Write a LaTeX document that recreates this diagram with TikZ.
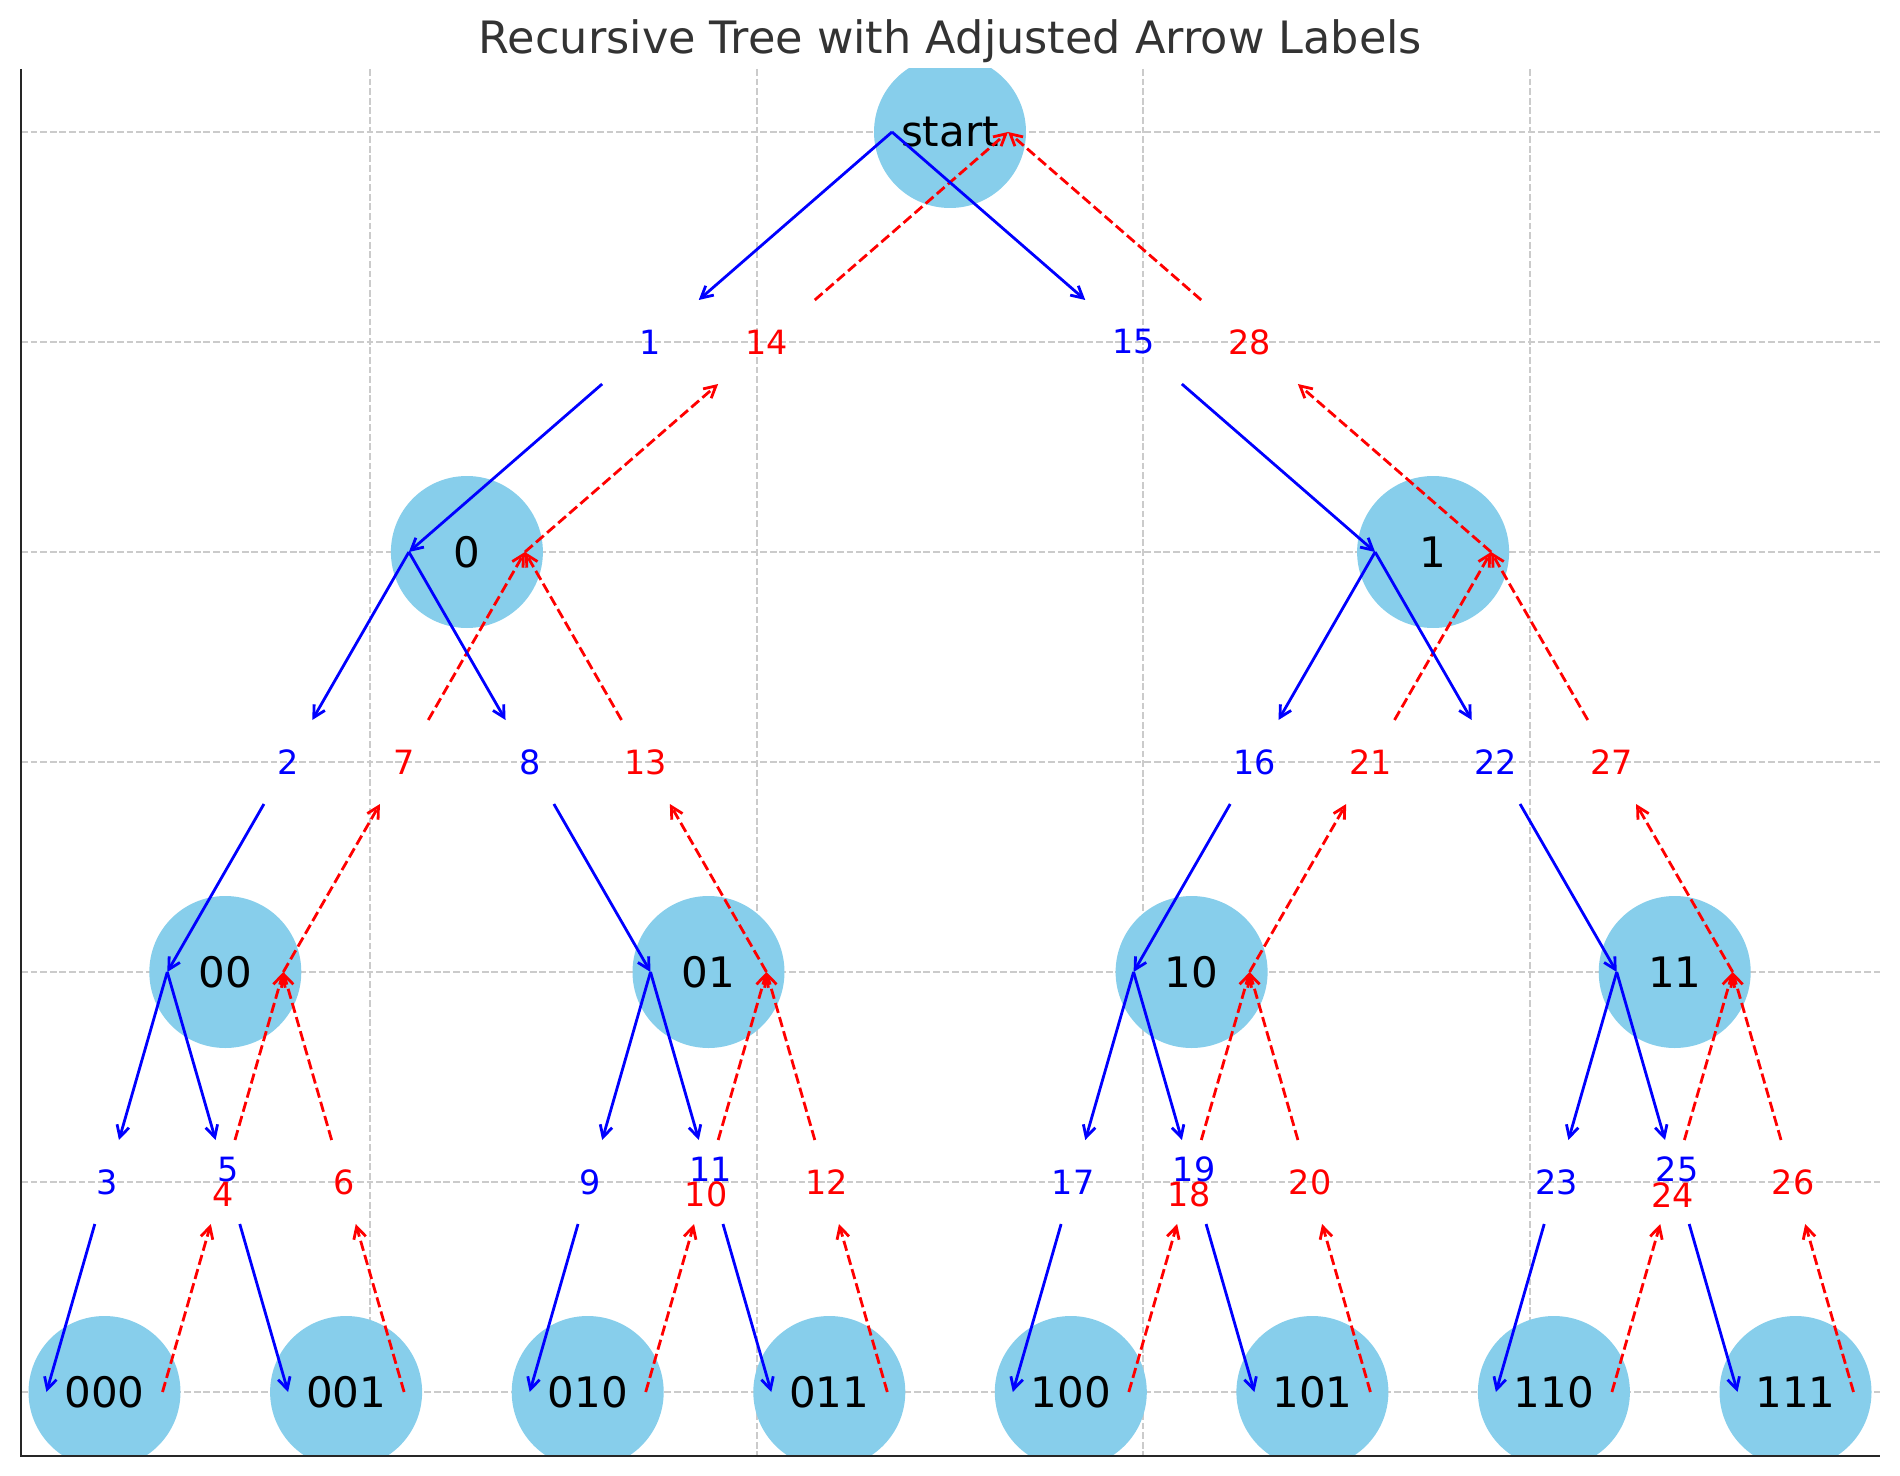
\documentclass[tikz,border=0pt]{standalone}
\usepackage{fontspec}
\setmainfont{DejaVu Sans}
\usetikzlibrary{arrows.meta,calc}
\definecolor{skyblue}{HTML}{87CEEB}
\definecolor{gridgray}{HTML}{CBCBCB}
\definecolor{spinegray}{HTML}{262626}
\definecolor{titlegray}{HTML}{333333}
\definecolor{pureblue}{HTML}{0000FF}
\definecolor{purered}{HTML}{FF0000}

% #1 parent, #2 child, #3 down label, #4 its y shift, #5 up label, #6 its y shift
\newcommand\treeedge[6]{%
  \draw[downarr] (#1-b) -- ($(#1-b)!0.4!(#2-b)$);
  \draw[downarr] ($(#1-b)!0.6!(#2-b)$) -- (#2-b);
  \node[downlbl] (l#3) at ($(#1-b)!0.5!(#2-b)+(0,#4)$) {#3};
  \draw[uparr] (#2-r) -- ($(#2-r)!0.4!(#1-r)$);
  \draw[uparr] ($(#2-r)!0.6!(#1-r)$) -- (#1-r);
  \node[uplbl] (l#5) at ($(#2-r)!0.5!(#1-r)+(0,#6)$) {#5};
}

\begin{document}
\begin{tikzpicture}[x=0.5pt,y=-0.5pt,
  treenode/.style={circle, fill=skyblue, inner sep=0pt, minimum size=76pt,
    font=\fontsize{21pt}{25pt}\selectfont, text=black},
  gridline/.style={draw=gridgray, line width=0.9pt, dash pattern=on 3.4pt off 1.4pt},
  spine/.style={draw=spinegray, line width=1.1pt},
  tipstyle/.style={-{Straight Barb[length=5.8pt,width=6.2pt]}},
  downarr/.style={tipstyle, draw=pureblue, line width=1.4pt},
  uparr/.style={tipstyle, draw=purered, line width=1.4pt, dash pattern=on 5.15pt off 2.2pt},
  downlbl/.style={inner sep=0pt, text=pureblue, font=\fontsize{16.7pt}{20pt}\selectfont},
  uplbl/.style={inner sep=0pt, text=purered, font=\fontsize{16.7pt}{20pt}\selectfont},
  titlestyle/.style={inner sep=0pt, anchor=base, text=titlegray, font=\fontsize{22.3pt}{26pt}\selectfont}
]
\useasboundingbox (0,0) rectangle (1900,1476);

% grid
\foreach \yy in {132,342,552,762,972,1182,1392}
  \draw[gridline] (21,\yy) -- (1880,\yy);
\foreach \xx in {370.2,756.7,1143.3,1529.8}
  \draw[gridline] (\xx,69) -- (\xx,1456);

% tree nodes
\begin{scope}
\clip (21,69) rectangle (1880,1456);
\node[treenode] (root) at (950,132) {start};
\node[treenode] (a0) at (466.9,552) {0};
\node[treenode] (a1) at (1433.1,552) {1};
\node[treenode] (a00) at (225.3,972) {00};
\node[treenode] (a01) at (708.5,972) {01};
\node[treenode] (a10) at (1191.6,972) {10};
\node[treenode] (a11) at (1674.7,972) {11};
\node[treenode] (a000) at (104.5,1392) {000};
\node[treenode] (a001) at (346.1,1392) {001};
\node[treenode] (a010) at (587.7,1392) {010};
\node[treenode] (a011) at (829.3,1392) {011};
\node[treenode] (a100) at (1070.8,1392) {100};
\node[treenode] (a101) at (1312.4,1392) {101};
\node[treenode] (a110) at (1553.9,1392) {110};
\node[treenode] (a111) at (1795.5,1392) {111};
\end{scope}

% attachment points of the connectors
\foreach \n in {root,a0,a1,a00,a01,a10,a11,a000,a001,a010,a011,a100,a101,a110,a111}{
  \coordinate (\n-b) at ($(\n)+(-58,0)$);
  \coordinate (\n-r) at ($(\n)+(58,0)$);
}

% connectors with step labels
\treeedge{root}{a0}{1}{0}{14}{0}
\treeedge{a0}{a00}{2}{0}{7}{0}
\treeedge{a00}{a000}{3}{0}{4}{12.6}
\treeedge{a00}{a001}{5}{-12.6}{6}{0}
\treeedge{a0}{a01}{8}{0}{13}{0}
\treeedge{a01}{a010}{9}{0}{10}{12.6}
\treeedge{a01}{a011}{11}{-12.6}{12}{0}
\treeedge{root}{a1}{15}{0}{28}{0}
\treeedge{a1}{a10}{16}{0}{21}{0}
\treeedge{a10}{a100}{17}{0}{18}{12.6}
\treeedge{a10}{a101}{19}{-12.6}{20}{0}
\treeedge{a1}{a11}{22}{0}{27}{0}
\treeedge{a11}{a110}{23}{0}{24}{12.6}
\treeedge{a11}{a111}{25}{-12.6}{26}{0}

% axes spines
\draw[spine] (21,69) -- (21,1456) -- (1880,1456);

% title
\node[titlestyle] (title) at (950.5,54) {Recursive Tree with Adjusted Arrow Labels};
\end{tikzpicture}
\end{document}
